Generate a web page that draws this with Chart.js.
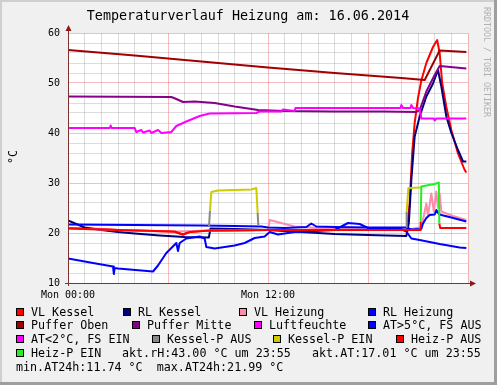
<!DOCTYPE html>
<html>
<head>
<meta charset="utf-8">
<script src="https://cdn.jsdelivr.net/npm/chart.js@4.4.1/dist/chart.umd.min.js"></script>
<style>
  html, body { margin: 0; padding: 0; background: #f0f0f0; }
  canvas { display: block; }
</style>
</head>
<body>
<canvas id="c" width="497" height="385"></canvas>
<script>
// Zeitachse in Stunden (0 = Mon 00:00, 24 = Ende des Tages)
const xTickHours = [0, 12];
const xTickText = ['Mon 00:00', 'Mon 12:00'];
const yTickValues = [10, 20, 30, 40, 50, 60];

const seriesNames = ['VL Kessel', 'RL Kessel', 'VL Heizung', 'RL Heizung', 'Puffer Oben', 'Puffer Mitte',
  'Luftfeuchte', 'AT>5°C, FS AUS', 'AT<2°C, FS EIN', 'Kessel-P AUS', 'Kessel-P EIN', 'Heiz-P AUS', 'Heiz-P EIN'];
const seriesColors = ['#ff0000', '#000080', '#ff8aaa', '#0000ff', '#a00000', '#880088',
  '#ff00ff', '#0000ff', '#ff00ff', '#888888', '#cccc00', '#ff0000', '#22f022'];

const vlKesselT = [0, 1, 2, 3, 4, 5, 6, 6.4, 6.9, 7.3, 8, 10, 12, 14, 16, 18, 20, 20.35, 20.5, 20.65, 20.8, 21.0, 21.2, 21.5, 21.9, 22.15, 22.3, 22.45, 22.7, 23.0, 23.4, 23.8, 23.9];
const vlKesselV = [21.0, 20.9, 20.8, 20.6, 20.5, 20.4, 20.3, 20.2, 19.7, 20.2, 20.4, 20.5, 20.6, 20.6, 20.7, 20.6, 20.6, 20.7, 26.0, 36.0, 42.0, 47.0, 50.5, 54.0, 57.2, 58.6, 56.0, 50.0, 45.2, 40.6, 35.9, 32.6, 32.1];

const rlKesselT = [0, 0.5, 1, 2, 3, 4, 5.5, 7, 8.45, 8.55, 10, 12, 14, 16, 18, 20.3, 20.45, 20.6, 20.8, 21.1, 21.5, 21.9, 22.2, 22.4, 22.7, 23.0, 23.4, 23.7, 23.9];
const rlKesselV = [22.5, 21.8, 21.1, 20.6, 20.2, 19.9, 19.5, 19.2, 19.1, 20.9, 20.8, 20.6, 20.2, 19.8, 19.6, 19.4, 22.0, 30.6, 39.3, 43.3, 47.3, 49.9, 52.6, 49.3, 43.3, 40.0, 36.6, 34.3, 34.3];

const vlHeizungT = [0, 3, 6.4, 8.5, 11.4, 12.0, 12.1, 13.6, 16, 20.3, 21.2, 21.3, 21.5, 21.6, 21.8, 21.95, 22.1, 22.2, 22.3, 22.4, 23.1, 23.9];
const vlHeizungV = [20.9, 20.6, 20.3, 20.5, 20.6, 20.6, 22.6, 21.3, 20.8, 20.6, 21.2, 22.6, 25.9, 23.5, 27.9, 24.3, 28.3, 25.0, 27.9, 24.3, 23.4, 22.6];

const rlHeizungT = [0, 4, 8, 10, 11.6, 12.0, 13, 14.3, 14.6, 14.9, 16, 18.1, 20.3, 20.6, 21.2, 21.3, 21.5, 21.7, 22.0, 22.1, 22.25, 22.4, 23.0, 23.9];
const rlHeizungV = [21.7, 21.6, 21.5, 21.4, 21.3, 21.1, 21.0, 21.2, 21.9, 21.3, 21.2, 21.1, 21.1, 20.7, 20.8, 21.9, 23.0, 23.6, 23.7, 24.6, 23.8, 23.6, 23.1, 22.3];

const pufferObenT = [0, 4, 8, 12, 16, 20, 21.4, 22.3, 23.9];
const pufferObenV = [56.6, 55.5, 54.3, 53.1, 52.0, 51.0, 50.6, 56.5, 56.2];

const pufferMitteT = [0, 6.2, 6.5, 6.9, 7.6, 8.8, 10, 11.4, 13, 16, 19, 20.9, 21.1, 21.5, 22.0, 22.3, 23.9];
const pufferMitteV = [47.3, 47.2, 46.8, 46.2, 46.3, 46.0, 45.3, 44.6, 44.4, 44.3, 44.3, 44.2, 44.6, 48.3, 51.6, 53.4, 52.9];

const luftT = [0, 2.5, 2.56, 2.62, 4.0, 4.1, 4.4, 4.5, 4.9, 5.0, 5.4, 5.6, 6.2, 6.5, 7.1, 7.9, 8.5, 11.3, 11.5, 12.8, 12.9, 13.6, 13.65, 19.95, 20.0, 20.1, 20.55, 20.6, 20.7, 21.1, 21.2, 21.95, 22.0, 22.1, 23.9];
const luftV = [41.0, 41.0, 41.5, 41.0, 41.0, 40.2, 40.6, 40.1, 40.5, 40.0, 40.6, 40.0, 40.2, 41.4, 42.3, 43.4, 43.9, 44.0, 44.3, 44.3, 44.7, 44.4, 45.0, 45.0, 45.6, 45.0, 45.0, 45.6, 45.0, 44.9, 42.9, 42.9, 42.5, 42.9, 42.9];

const atT = [0, 1.5, 2.7, 2.75, 2.8, 3.0, 5.1, 5.4, 5.9, 6.5, 6.6, 6.7, 7.1, 7.9, 8.2, 8.3, 8.8, 10.0, 10.6, 11.2, 11.8, 12.1, 12.6, 13.6, 16.0, 16.8, 17.5, 18.0, 20.0, 20.3, 20.6, 21.1, 22.3, 23.5, 23.9];
const atV = [14.9, 14.0, 13.3, 11.8, 13.0, 12.9, 12.3, 13.5, 16.0, 18.0, 16.4, 18.0, 18.9, 19.3, 18.9, 17.2, 16.9, 17.5, 18.0, 19.0, 19.3, 20.2, 19.7, 20.2, 20.6, 22.0, 21.8, 21.0, 20.8, 20.3, 18.9, 18.6, 17.8, 17.1, 17.0];

const atFrostT = [];
const atFrostV = [];

const kesselAusT = [8.46, 8.52, 8.53, 11.38, 11.42, 11.43, 20.28, 20.32];
const kesselAusV = [21.3, 24.5, null, 24.0, 21.4, null, 21.2, 24.3];

const kesselEinT = [8.52, 8.6, 9.0, 10.0, 11.0, 11.3, 11.38, 11.39, 20.32, 20.42, 21.2];
const kesselEinV = [24.5, 28.2, 28.5, 28.6, 28.7, 29.0, 24.0, null, 24.3, 29.0, 29.1];

const heizAusT = [0, 3, 6.4, 6.9, 7.3, 8.5, 12, 16, 20.3, 21.13, 21.16, 21.17, 22.28, 22.33, 23.9];
const heizAusV = [20.9, 20.6, 20.3, 19.7, 20.2, 20.5, 20.6, 20.6, 20.6, 20.6, 22.3, null, 21.9, 21.0, 21.0];

const heizEinT = [21.16, 21.2, 21.5, 22.0, 22.25, 22.28];
const heizEinV = [22.3, 29.3, 29.5, 29.8, 30.1, 21.9];

const seriesT = [vlKesselT, rlKesselT, vlHeizungT, rlHeizungT, pufferObenT, pufferMitteT, luftT, atT, atFrostT, kesselAusT, kesselEinT, heizAusT, heizEinT];
const seriesV = [vlKesselV, rlKesselV, vlHeizungV, rlHeizungV, pufferObenV, pufferMitteV, luftV, atV, atFrostV, kesselAusV, kesselEinV, heizAusV, heizEinV];

const infoLine1 = 'akt.rH:43.00 °C um 23:55   akt.AT:17.01 °C um 23:55';
const infoLine2 = 'min.AT24h:11.74 °C  max.AT24h:21.99 °C';

// Legendenpositionen (Kästchen links, Zeilenmitte)
const legendX = [16, 123, 239, 368, 16, 132, 254, 368, 16, 152, 273, 396, 16];
const legendY = [312, 312, 312, 312, 325, 325, 325, 325, 339, 339, 339, 339, 353];

const MONO = '"DejaVu Sans Mono", "Liberation Mono", monospace';
Chart.defaults.font.family = MONO;

const datasets = seriesNames.map((name, i) => ({
  label: name,
  data: seriesT[i].map((t, k) => ({ x: t, y: seriesV[i][k] })),
  borderColor: seriesColors[i],
  backgroundColor: seriesColors[i],
  borderWidth: 2,
  borderJoinStyle: 'round',
  pointRadius: 0,
  tension: 0,
  spanGaps: false,
  order: seriesNames.length - i  // spätere Serien oben, wie bei rrdtool
}));

const decor = {
  id: 'decor',
  beforeDraw(chart) {
    const { ctx, chartArea: a, width, height } = chart;
    ctx.save();
    ctx.fillStyle = '#f0f0f0';
    ctx.fillRect(0, 0, width, height);
    ctx.fillStyle = '#cfcfcf';
    ctx.fillRect(0, 0, width, 2);
    ctx.fillRect(0, 0, 2, height);
    ctx.fillStyle = '#9e9e9e';
    ctx.fillRect(0, height - 3, width, 3);
    ctx.fillRect(width - 3, 0, 3, height);
    ctx.fillStyle = '#ffffff';
    ctx.fillRect(a.left, a.top, a.right - a.left, a.bottom - a.top);
    ctx.restore();
  },
  afterDraw(chart) {
    const { ctx, chartArea: a } = chart;
    ctx.save();

    // Achsen mit Pfeilen
    ctx.strokeStyle = '#7f3030';
    ctx.lineWidth = 1;
    ctx.beginPath();
    ctx.moveTo(a.left + 0.5, a.bottom + 3);
    ctx.lineTo(a.left + 0.5, a.top - 5);
    ctx.moveTo(a.left - 3, a.bottom + 0.5);
    ctx.lineTo(a.right + 5, a.bottom + 0.5);
    ctx.stroke();
    ctx.fillStyle = '#8b1a1a';
    ctx.beginPath();
    ctx.moveTo(a.left + 0.5, a.top - 8);
    ctx.lineTo(a.left - 2.5, a.top - 2);
    ctx.lineTo(a.left + 3.5, a.top - 2);
    ctx.closePath();
    ctx.fill();
    ctx.beginPath();
    ctx.moveTo(a.right + 8, a.bottom + 0.5);
    ctx.lineTo(a.right + 2, a.bottom - 2.5);
    ctx.lineTo(a.right + 2, a.bottom + 3.5);
    ctx.closePath();
    ctx.fill();

    // Titel
    ctx.fillStyle = '#000';
    ctx.textAlign = 'center';
    ctx.textBaseline = 'middle';
    ctx.font = '13.4px ' + MONO;
    ctx.fillText('Temperaturverlauf Heizung am: 16.06.2014', 248, 17);

    // Y-Achsentitel
    ctx.save();
    ctx.translate(14, 157);
    ctx.rotate(-Math.PI / 2);
    ctx.font = '11.7px ' + MONO;
    ctx.fillText('°C', 0, 0);
    ctx.restore();

    // Wasserzeichen
    ctx.save();
    ctx.translate(486, 7);
    ctx.rotate(Math.PI / 2);
    ctx.textAlign = 'left';
    ctx.fillStyle = '#b0b0b0';
    ctx.font = '8.3px ' + MONO;
    ctx.fillText('RRDTOOL / TOBI OETIKER', 0, 0);
    ctx.restore();

    // Legende
    ctx.font = '11.7px ' + MONO;
    ctx.textAlign = 'left';
    ctx.textBaseline = 'middle';
    chart.data.datasets.forEach((ds, i) => {
      const x = legendX[i], y = legendY[i];
      ctx.fillStyle = ds.borderColor;
      ctx.fillRect(x, y - 4, 8, 8);
      ctx.strokeStyle = '#000';
      ctx.strokeRect(x + 0.5, y - 3.5, 7, 7);
      ctx.fillStyle = '#000';
      ctx.fillText(ds.label, x + 15, y + 0.5);
    });
    ctx.fillText(infoLine1, 122, 353.5);
    ctx.fillText(infoLine2, 16, 367.5);
    ctx.restore();
  }
};

new Chart(document.getElementById('c'), {
  type: 'line',
  data: { datasets },
  options: {
    responsive: false,
    animation: false,
    events: [],
    layout: { padding: { left: 0, top: 33, right: 29, bottom: 0 } },
    plugins: { legend: { display: false }, tooltip: { enabled: false }, title: { display: false } },
    scales: {
      x: {
        type: 'linear',
        min: 0,
        max: 24,
        afterFit: s => { s.height = 102; },
        border: { display: false },
        grid: {
          drawTicks: false,
          lineWidth: 1,
          color: c => (c.tick && c.tick.value % 6 === 0) ? 'rgba(235,90,90,0.4)' : 'rgba(140,140,140,0.3)'
        },
        ticks: {
          stepSize: 1,
          autoSkip: false,
          maxRotation: 0,
          minRotation: 0,
          padding: 6,
          color: '#000',
          font: { size: 10, family: MONO },
          callback: v => { const k = xTickHours.indexOf(v); return k >= 0 ? xTickText[k] : ''; }
        }
      },
      y: {
        min: 10,
        max: 60,
        afterFit: s => { s.width = 68; },
        border: { display: false },
        grid: {
          drawTicks: false,
          lineWidth: 1,
          color: c => (c.tick && yTickValues.includes(c.tick.value)) ? 'rgba(235,90,90,0.4)' : 'rgba(140,140,140,0.3)'
        },
        ticks: {
          stepSize: 2,
          autoSkip: false,
          padding: 8,
          color: '#000',
          font: { size: 10, family: MONO },
          callback: v => yTickValues.includes(v) ? String(v) : ''
        }
      }
    }
  },
  plugins: [decor]
});
</script>
</body>
</html>
